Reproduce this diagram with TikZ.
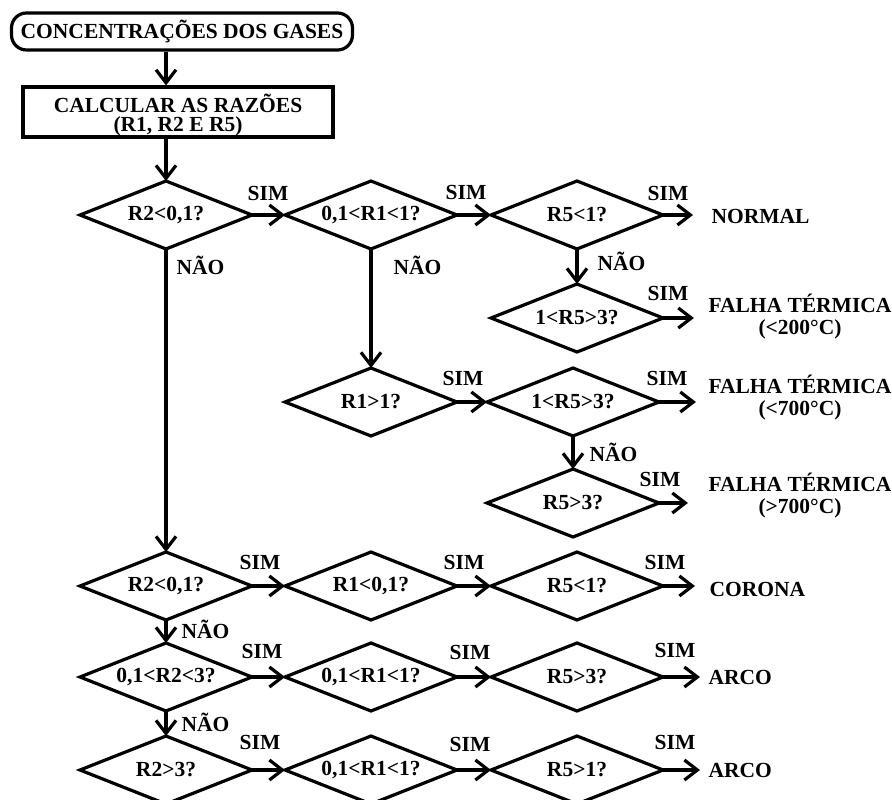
\documentclass[tikz,border=0pt]{standalone}
\usepackage{fontspec}
\setmainfont{Liberation Serif}
\usetikzlibrary{shapes.geometric,arrows.meta}
\begin{document}
\begin{tikzpicture}[x=1pt,y=-1pt,
  font=\fontsize{21.5}{22}\selectfont\bfseries,
  line width=3.2pt,
  dec/.style={draw, diamond, aspect=2.53, minimum width=172pt,
    minimum height=68pt, inner sep=0pt, outer sep=0pt},
  arr/.style={-{Straight Barb[length=13pt,width=20pt]}, line width=3.2pt},
  lbl/.style={inner sep=0pt},
  twoline/.style={inner sep=0pt, align=center,
    font=\fontsize{21.5}{22}\selectfont\bfseries},
]
\useasboundingbox (0,0) rectangle (892,800);

% start and preparation boxes
\node[draw, rounded corners=15pt, minimum width=341pt, minimum height=37pt,
  inner sep=0pt] (conc) at (182,31.5) {CONCENTRAÇÕES DOS GASES};
\node[draw, minimum width=310pt, minimum height=50pt, inner sep=0pt]
  (calc) at (178,112) {};
\node[twoline, font=\fontsize{21.5}{19.5}\selectfont\bfseries]
  (calctxt) at ([yshift=-3pt]calc.center) {CALCULAR AS RAZÕES\\(R1, R2 E R5)};

% decision diamonds
\node[dec] (a1) at (166,215) {R2<0,1?};
\node[dec] (b1) at (371,215) {0,1<R1<1?};
\node[dec] (c1) at (577,215) {R5<1?};
\node[dec] (c2) at (577,318) {1<R5>3?};
\node[dec] (b3) at (371,402) {R1>1?};
\node[dec] (c3) at (573,402) {1<R5>3?};
\node[dec] (c4) at (573,503) {R5>3?};
\node[dec] (a5) at (166,586) {R2<0,1?};
\node[dec] (b5) at (371,586) {R1<0,1?};
\node[dec] (c5) at (577,586) {R5<1?};
\node[dec] (a6) at (166,677) {0,1<R2<3?};
\node[dec] (b6) at (371,677) {0,1<R1<1?};
\node[dec] (c6) at (577,677) {R5>3?};
\node[dec] (a7) at (166,770) {R2>3?};
\node[dec] (b7) at (371,770) {0,1<R1<1?};
\node[dec] (c7) at (577,770) {R5>1?};

% diagnoses
\node[lbl, anchor=west] (normal) at (710,216) {NORMAL};
\node[twoline] (f1) at (800,317) {FALHA TÉRMICA\\(<200°C)};
\node[twoline] (f2) at (800,398) {FALHA TÉRMICA\\(<700°C)};
\node[twoline] (f3) at (800,496) {FALHA TÉRMICA\\(>700°C)};
\node[lbl, anchor=west] (corona) at (708,589) {CORONA};
\node[lbl, anchor=west] (arco1) at (707,677) {ARCO};
\node[lbl, anchor=west] (arco2) at (707,770) {ARCO};

% connectors
\draw[arr] (conc.south -| a1.north) -- (calc.north -| a1.north);
\draw[arr] (calc.south -| a1.north) -- (a1.north);
\draw[arr] (a1.east) -- (b1.west);
\draw[arr] (b1.east) -- (c1.west);
\draw[arr, shorten >=17pt] (c1.east) -- (c1.east -| normal.west);
\draw[arr] (c1.south) -- (c2.north);
\draw[arr, shorten >=13pt] (c2.east) -- (c2.east -| f1.west);
\draw[arr] (b1.south) -- (b3.north);
\draw[arr] (b3.east) -- (c3.west);
\draw[arr, shorten >=11pt] (c3.east) -- (c3.east -| f2.west);
\draw[arr] (c3.south) -- (c4.north);
\draw[arr, shorten >=19pt] (c4.east) -- (c4.east -| f3.west);
\draw[arr] (a1.south) -- (a5.north);
\draw[arr] (a5.east) -- (b5.west);
\draw[arr] (b5.east) -- (c5.west);
\draw[arr, shorten >=13pt] (c5.east) -- (c5.east -| corona.west);
\draw[arr] (a5.south) -- (a6.north);
\draw[arr] (a6.east) -- (b6.west);
\draw[arr] (b6.east) -- (c6.west);
\draw[arr, shorten >=7pt] (c6.east) -- (c6.east -| arco1.west);
\draw[arr] (a6.south) -- (a7.north);
\draw[arr] (a7.east) -- (b7.west);
\draw[arr] (b7.east) -- (c7.west);
\draw[arr, shorten >=7pt] (c7.east) -- (c7.east -| arco2.west);

% branch labels
\node[lbl] (s1) at (268,193) {SIM};
\node[lbl] (s2) at (466,192) {SIM};
\node[lbl] (s3) at (668,193) {SIM};
\node[lbl] (s4) at (668,293) {SIM};
\node[lbl] (s5) at (463,378) {SIM};
\node[lbl] (s6) at (667,378) {SIM};
\node[lbl] (s7) at (660,479) {SIM};
\node[lbl] (s8) at (260,562) {SIM};
\node[lbl] (s9) at (464,562) {SIM};
\node[lbl] (s10) at (665,562) {SIM};
\node[lbl] (s11) at (262,651) {SIM};
\node[lbl] (s12) at (470,652) {SIM};
\node[lbl] (s13) at (675,650) {SIM};
\node[lbl] (s14) at (260,742) {SIM};
\node[lbl] (s15) at (470,744) {SIM};
\node[lbl] (s16) at (675,742) {SIM};

\node[lbl, anchor=west] (n1) at (175,265) {NÃO};
\node[lbl, anchor=west] (n2) at (392,265) {NÃO};
\node[lbl, anchor=west] (n3) at (596,261) {NÃO};
\node[lbl, anchor=west] (n4) at (588,452) {NÃO};
\node[lbl, anchor=west] (n5) at (180,629) {NÃO};
\node[lbl, anchor=west] (n6) at (180,722) {NÃO};
\end{tikzpicture}
\end{document}
